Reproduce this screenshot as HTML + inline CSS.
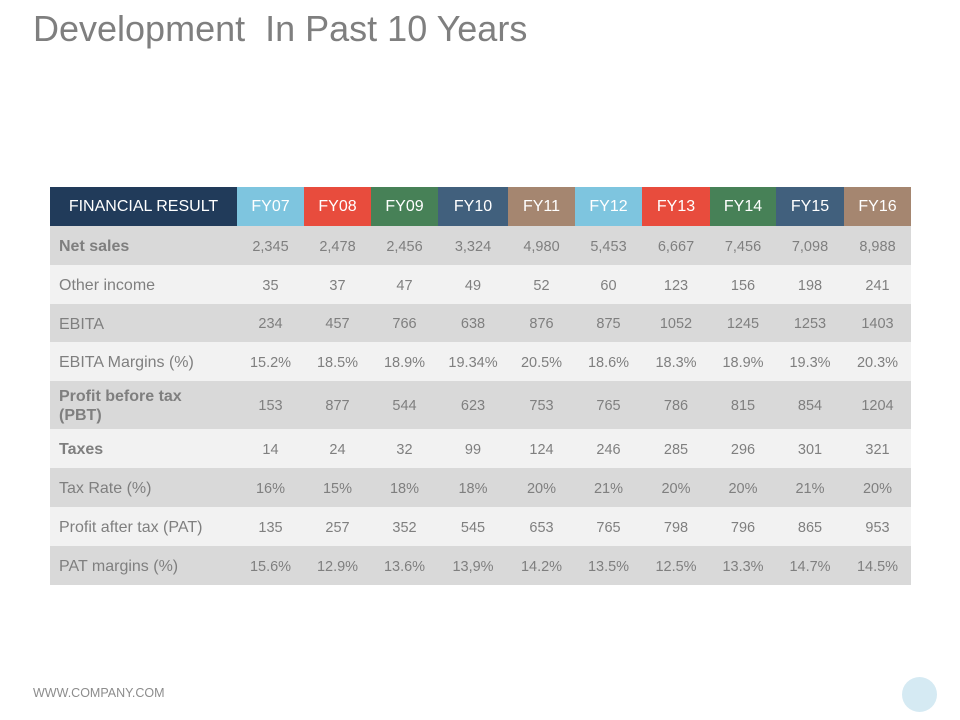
<!DOCTYPE html>
<html><head><meta charset="utf-8"><style>
body{margin:0;width:960px;height:720px;background:#fff;position:relative;overflow:hidden;font-family:"Liberation Sans",Arial,sans-serif}
#title{position:absolute;left:33px;top:8px;font-size:36px;color:#7f7f7f;white-space:nowrap}
#tbl{position:absolute;left:50px;top:187px}
.c{position:absolute;display:flex;align-items:center;justify-content:center;box-sizing:border-box;color:#7f7f7f;font-size:14.5px;padding-top:2px}
.lab{justify-content:flex-start;padding-left:9px;font-size:16px;line-height:19px}
.h{color:#fff;font-size:16px;padding-top:0}
#foot{position:absolute;left:33px;top:686px;font-size:12.5px;color:#8c8c8c}
#dot{position:absolute;left:902px;top:677px;width:35px;height:35px;border-radius:50%;background:#d5eaf3}
</style></head><body>
<div id="title">Development&nbsp; In Past 10 Years</div>
<div id="tbl"></div>
<div id="foot">WWW.COMPANY.COM</div>
<div id="dot"></div>
<script>
const years=["FY07","FY08","FY09","FY10","FY11","FY12","FY13","FY14","FY15","FY16"];
const headColors=["#7ec5df","#e84c3d","#478157","#41607d","#a58670","#7ec5df","#e84c3d","#478157","#41607d","#a58670"];
const labels=["Net sales","Other income","EBITA","EBITA Margins (%)","Profit before tax (PBT)","Taxes","Tax Rate (%)","Profit after tax (PAT)","PAT margins (%)"];
const bold=[true,false,false,false,true,true,false,false,false];
const rowH=[39,39,38,39,48,39,39,39,39];
const values=[
["2,345","2,478","2,456","3,324","4,980","5,453","6,667","7,456","7,098","8,988"],
["35","37","47","49","52","60","123","156","198","241"],
["234","457","766","638","876","875","1052","1245","1253","1403"],
["15.2%","18.5%","18.9%","19.34%","20.5%","18.6%","18.3%","18.9%","19.3%","20.3%"],
["153","877","544","623","753","765","786","815","854","1204"],
["14","24","32","99","124","246","285","296","301","321"],
["16%","15%","18%","18%","20%","21%","20%","20%","21%","20%"],
["135","257","352","545","653","765","798","796","865","953"],
["15.6%","12.9%","13.6%","13,9%","14.2%","13.5%","12.5%","13.3%","14.7%","14.5%"]];
const colX=[0,187,254,321,388,458,525,592,660,726,794,861];
const t=document.getElementById('tbl');
function cell(x,y,w,h,txt,bg,cls){const d=document.createElement('div');d.className='c '+cls;d.style.left=x+'px';d.style.top=y+'px';d.style.width=w+'px';d.style.height=h+'px';d.style.background=bg;d.textContent=txt;t.appendChild(d);return d;}
let e=cell(0,0,187,39,"FINANCIAL RESULT","#213b5a","h");


years.forEach((y,i)=>{const d=cell(colX[i+1],0,colX[i+2]-colX[i+1],39,y,headColors[i],"h");

});
let yy=39;
labels.forEach((l,r)=>{const bg=r%2==0?"#d9d9d9":"#f2f2f2";const h=rowH[r];
const d=cell(0,yy,187,h,l,bg,"lab");if(bold[r])d.style.fontWeight="bold";
if(r==4){d.innerHTML='Profit before tax<br>(PBT)';}


values[r].forEach((v,i)=>{const c=cell(colX[i+1],yy,colX[i+2]-colX[i+1],h,v,bg,"");

});
yy+=h;});
</script>
</body></html>
